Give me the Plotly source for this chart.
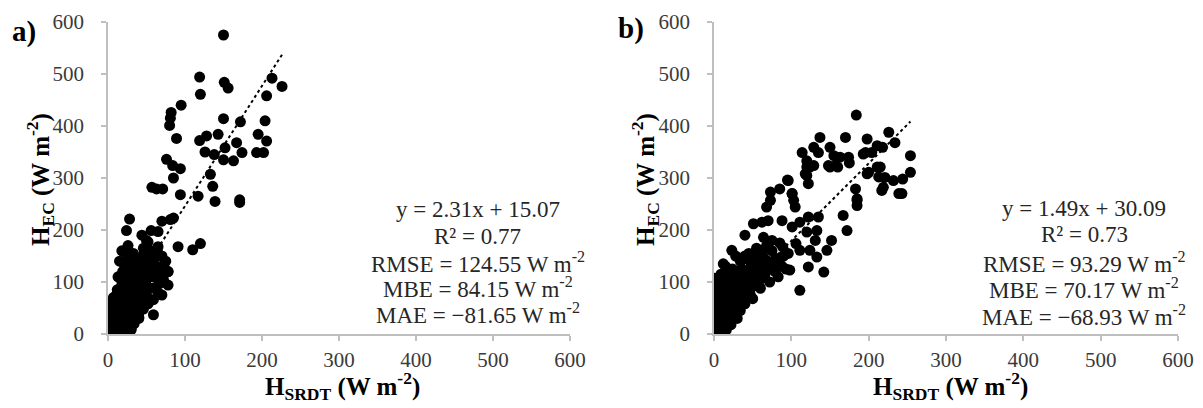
import plotly.graph_objects as go

# ---------------- data ----------------
# Panel a: H_SRDT vs H_EC
a_x = [150, 119, 120, 151, 156, 95, 82, 81, 80, 150, 172, 89, 119, 128, 143, 152, 167, 126, 138, 150,
       163, 174, 76, 84, 94, 133, 85, 213, 226, 206, 204, 195, 206, 193, 202, 136, 171, 117, 94, 57,
       63, 71, 139, 171, 28, 24, 70, 81, 85, 56, 65, 91, 110, 120, 52, 65, 78, 78, 59, 59,
       24, 46,
       2, 4, 6, 8, 10, 3, 12, 5, 15, 18, 20, 14, 9, 22, 25, 28, 7, 16, 24, 30,
       12, 20, 27, 32, 35, 38, 18, 25, 33, 40, 45, 28, 36, 42, 48, 52, 40, 52, 22, 30,
       38, 45, 50, 58, 62, 65, 10, 14, 20, 26, 30, 34, 40, 46, 4, 8, 11, 17, 13, 19,
       24, 33, 40, 47, 53, 35, 43, 57, 63, 68, 70, 72, 52, 40, 30, 26, 6, 1, 3, 16,
       21, 29, 34, 39, 31, 27, 23, 15, 37, 41, 49, 54, 60, 64, 70, 75, 78, 56, 46, 18,
       26, 50, 44, 30, 26, 8, 12, 17, 22, 20, 25, 30, 36, 22, 42, 5, 9, 13, 2, 7,
       11, 15, 19, 23, 27, 31, 35, 39, 43, 47, 51, 10, 14, 18, 22, 26, 60, 55, 67, 73]
a_y = [575, 494, 461, 484, 473, 440, 426, 415, 401, 414, 408, 376, 372, 381, 384, 358, 368, 350, 345, 335,
       333, 349, 336, 324, 318, 307, 300, 492, 476, 458, 410, 384, 371, 349, 349, 284, 258, 265, 268, 282,
       279, 279, 255, 253, 221, 199, 217, 220, 223, 199, 197, 168, 162, 174, 177, 168, 120, 94, 66, 37,
       156, 152,
       5, 12, 3, 20, 8, 28, 35, 40, 15, 5, 25, 48, 55, 40, 12, 30, 70, 65, 58, 50,
       85, 80, 72, 20, 42, 60, 100, 95, 88, 75, 55, 115, 105, 98, 85, 70, 40, 62, 130, 140,
       128, 120, 135, 110, 90, 80, 2, 0, 10, 4, 8, 20, 32, 48, 60, 45, 75, 90, 110, 120,
       145, 155, 145, 150, 158, 128, 140, 125, 130, 98, 75, 105, 58, 30, 10, 2, 30, 15, 0, 35,
       55, 85, 70, 110, 105, 100, 115, 140, 85, 50, 100, 118, 145, 160, 150, 140, 120, 160, 165, 160,
       170, 180, 190, 60, 25, 10, 18, 26, 14, 22, 12, 32, 38, 24, 62, 50, 66, 44, 22, 12,
       6, 4, 2, 30, 48, 68, 78, 92, 108, 118, 132, 24, 44, 58, 72, 62, 110, 88, 120, 135]

# Panel b
b_x = [184, 226, 234, 198, 170, 137, 129, 135, 150, 155, 163, 174, 175, 150, 160, 114, 120, 124, 118, 122,
       96, 101, 85, 73, 73, 196, 204, 211, 218, 211, 198, 213, 219, 232, 239, 183, 185, 254, 254, 244,
       243, 193, 215, 200, 221, 217, 185, 185, 167, 172, 120, 129, 148, 157, 120, 95, 101, 103, 68, 105,
       51, 62, 70, 88, 40, 101, 111, 122, 135, 120, 133, 131, 152, 146, 124, 111, 133, 122, 142, 111,
       85, 98, 12, 23, 36, 1, 75, 64, 89, 106, 96,
       1, 3, 5, 7, 9, 2, 11, 4, 13, 16, 18, 6, 12, 20, 22, 24, 8, 15, 26, 28,
       30, 17, 23, 32, 35, 38, 20, 27, 33, 40, 44, 47, 50, 42, 36, 29, 53, 56, 60, 63,
       58, 48, 66, 70, 52, 45, 2, 5, 10, 14, 3, 19, 25, 31, 38, 45, 10, 16, 20, 25,
       30, 34, 8, 4, 12, 1, 0, 6, 18, 24, 34, 40, 55, 62, 68, 75, 80, 72, 78, 85,
       90, 28, 15, 9, 6, 11, 14, 17, 21, 26, 31, 36, 41, 46, 51, 57, 61, 65, 3, 7,
       13, 19, 23, 27, 33, 37, 43, 49, 55, 59, 64, 69, 74, 79, 83, 88, 93, 60, 50, 40]
b_y = [421, 388, 368, 375, 378, 378, 359, 349, 359, 343, 340, 340, 329, 321, 321, 349, 333, 321, 308, 289,
       295, 270, 279, 273, 257, 349, 349, 362, 359, 321, 308, 302, 282, 295, 270, 279, 260, 343, 311, 298,
       270, 346, 321, 311, 301, 276, 257, 247, 228, 199, 321, 324, 324, 324, 305, 296, 270, 257, 244, 244,
       212, 215, 218, 218, 190, 206, 215, 225, 225, 196, 199, 180, 180, 161, 161, 161, 148, 129, 119, 84,
       135, 123, 135, 161, 142, 107, 180, 186, 167, 174, 155,
       5, 15, 2, 25, 10, 35, 40, 50, 20, 8, 30, 60, 55, 45, 18, 60, 75, 70, 35, 70,
       50, 85, 90, 80, 62, 95, 100, 105, 110, 85, 100, 75, 110, 120, 125, 120, 95, 120, 105, 130,
       140, 135, 115, 140, 150, 155, 90, 80, 95, 105, 70, 65, 80, 95, 70, 90, 0, 15, 25, 40,
       30, 45, 40, 22, 30, 45, 60, 100, 118, 125, 140, 150, 165, 160, 170, 160, 145, 100, 130, 175,
       150, 150, 130, 115, 12, 20, 28, 36, 44, 52, 60, 68, 76, 84, 92, 100, 108, 116, 60, 48,
       38, 55, 65, 72, 88, 98, 110, 118, 130, 138, 148, 128, 138, 120, 110, 130, 125, 88, 68, 58]

# trend lines (from the printed equations)
a_slope, a_icpt = 2.31, 15.07
b_slope, b_icpt = 1.49, 30.09
a_line_x = [min(a_x), max(a_x)]
b_line_x = [min(b_x), max(b_x)]

a_stats = ["y = 2.31x + 15.07", "R² = 0.77", "RMSE = 124.55 W m<sup>-2</sup>",
           "MBE = 84.15 W m<sup>-2</sup>", "MAE = −81.65 W m<sup>-2</sup>"]
b_stats = ["y = 1.49x + 30.09", "R² = 0.73", "RMSE = 93.29 W m<sup>-2</sup>",
           "MBE = 70.17 W m<sup>-2</sup>", "MAE = −68.93 W m<sup>-2</sup>"]

tick_vals = [0, 100, 200, 300, 400, 500, 600]

# ---------------- figure ----------------
W, H = 1203, 408
SERIF = "Times New Roman"

fig = go.Figure()
fig.add_trace(go.Scatter(x=a_x, y=a_y, mode="markers", xaxis="x", yaxis="y",
                         marker=dict(size=11, color="black"), hoverinfo="skip"))
fig.add_trace(go.Scatter(x=a_line_x, y=[a_slope * v + a_icpt for v in a_line_x], mode="lines",
                         xaxis="x", yaxis="y", line=dict(color="black", width=2, dash="dot")))
fig.add_trace(go.Scatter(x=b_x, y=b_y, mode="markers", xaxis="x2", yaxis="y2",
                         marker=dict(size=11, color="black"), hoverinfo="skip"))
fig.add_trace(go.Scatter(x=b_line_x, y=[b_slope * v + b_icpt for v in b_line_x], mode="lines",
                         xaxis="x2", yaxis="y2", line=dict(color="black", width=2, dash="dot")))

axis_common = dict(range=[0, 600], tickvals=tick_vals, showgrid=False, zeroline=False,
                   showline=True, linecolor="#bfbfbf", linewidth=1.5,
                   ticks="outside", ticklen=5, tickcolor="#bfbfbf", tickwidth=1.5,
                   automargin=False,
                   tickfont=dict(family=SERIF, size=21, color="#3a3a3a"))

ydom = [1 - 334 / H, 1 - 22 / H]
fig.update_layout(
    width=W, height=H, showlegend=False,
    margin=dict(l=0, r=0, t=0, b=0),
    paper_bgcolor="white", plot_bgcolor="white",
    font=dict(family=SERIF),
    xaxis=dict(domain=[108 / W, 570 / W], anchor="y", ticklabelstandoff=1, **axis_common),
    yaxis=dict(domain=ydom, anchor="x", ticklabelstandoff=13, **axis_common),
    xaxis2=dict(domain=[714 / W, 1178 / W], anchor="y2", ticklabelstandoff=1, **axis_common),
    yaxis2=dict(domain=ydom, anchor="x2", ticklabelstandoff=13, **axis_common),
)

def px(xp):
    return xp / W

def py(yp):
    return 1 - yp / H

ann = []
for t, yy in zip(a_stats, [210, 236, 262, 287, 313]):
    ann.append(dict(text=t, x=px(478), y=py(yy), xref="paper", yref="paper",
                    xanchor="center", yanchor="middle", showarrow=False,
                    font=dict(family=SERIF, size=23, color="#262626")))
for t, yy in zip(b_stats, [208, 235, 262, 288, 315]):
    ann.append(dict(text=t, x=px(1084), y=py(yy), xref="paper", yref="paper",
                    xanchor="center", yanchor="middle", showarrow=False,
                    font=dict(family=SERIF, size=23, color="#262626")))
ann.append(dict(text="<b>a)</b>", x=px(24), y=py(32), xref="paper", yref="paper",
                xanchor="center", yanchor="middle", showarrow=False,
                font=dict(family=SERIF, size=29, color="black")))
ann.append(dict(text="<b>b)</b>", x=px(631), y=py(29), xref="paper", yref="paper",
                xanchor="center", yanchor="middle", showarrow=False,
                font=dict(family=SERIF, size=29, color="black")))
ytitle = "<b>H<sub>EC</sub> (W m<sup>-2</sup>)</b>"
xtitle = "<b>H<sub>SRDT</sub> (W m<sup>-2</sup>)</b>"
for cx in (40, 645):
    ann.append(dict(text=ytitle, x=px(cx), y=py(180), xref="paper", yref="paper",
                    xanchor="center", yanchor="middle", showarrow=False, textangle=-90,
                    font=dict(family=SERIF, size=25, color="black")))
for cx in (342, 951):
    ann.append(dict(text=xtitle, x=px(cx), y=py(386), xref="paper", yref="paper",
                    xanchor="center", yanchor="middle", showarrow=False,
                    font=dict(family=SERIF, size=25, color="black")))
fig.update_layout(annotations=ann)

fig.write_html("out.html")
